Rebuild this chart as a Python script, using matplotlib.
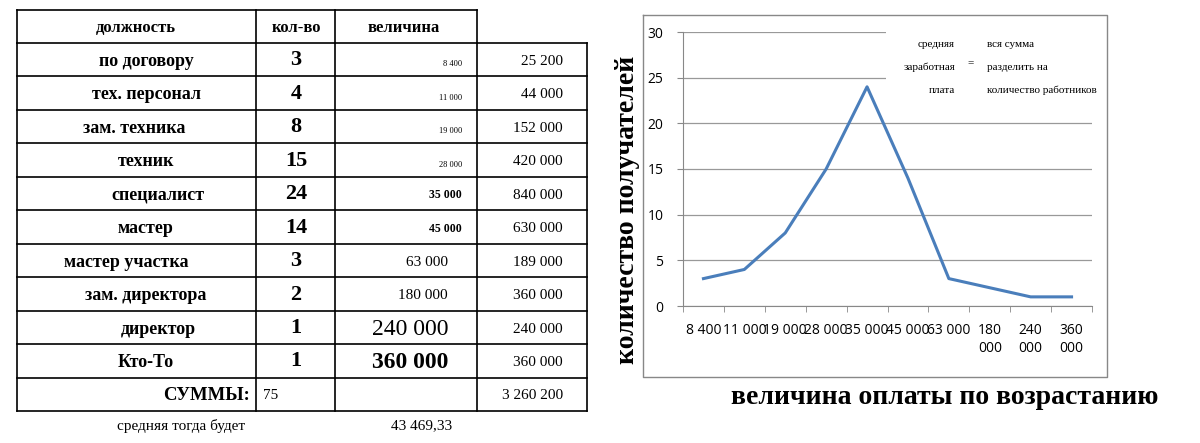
import matplotlib.pyplot as plt
import numpy as np

positions = ['по договору', 'тех. персонал', 'зам. техника', 'техник', 'специалист',
             'мастер', 'мастер участка', 'зам. директора', 'директор', 'Кто-То']
counts = [3, 4, 8, 15, 24, 14, 3, 2, 1, 1]
pay_labels = ['8 400', '11 000', '19 000', '28 000', '35 000', '45 000',
              '63 000', '180 000', '240 000', '360 000']
totals = ['25 200', '44 000', '152 000', '420 000', '840 000', '630 000',
          '189 000', '360 000', '240 000', '360 000']
sum_count = '75'
sum_total = '3 260 200'
average = '43 469,33'
tick_labels = ['8 400', '11 000', '19 000', '28 000', '35 000', '45 000', '63 000',
               '180\n000', '240\n000', '360\n000']

# how the "величина" column was typed in the sheet (size, weight)
pay_style = [(6, 'normal')] * 4 + [(8.5, 'bold')] * 2 + [(11, 'normal')] * 2 + \
            [(17, 'normal'), (17, 'bold')]
name_off = [0, 0, -12, 0, 12, 0, -20, 0, 12, 0]

fig = plt.figure(figsize=(12, 4.43), dpi=100)
bg = fig.add_axes([0, 0, 1, 1])
bg.set_xlim(0, 1200)
bg.set_ylim(443, 0)
bg.axis('off')

serif = 'Liberation Serif'
lw = 1.2
xs = [17, 256, 335, 477, 587]
top, head = 10, 43
rh = (411 - head) / 11
# header box
bg.plot([17, 477], [top, top], color='k', lw=lw)
for x in xs[:4]:
    bg.plot([x, x], [top, head], color='k', lw=lw)
for x in xs:
    bg.plot([x, x], [head, 411], color='k', lw=lw)
for i in range(12):
    y = head + i * rh
    bg.plot([17, 587], [y, y], color='k', lw=lw)

bg.text(136, 28, 'должность', family=serif, weight='bold', fontsize=12, ha='center', va='center')
bg.text(296, 28, 'кол-во', family=serif, weight='bold', fontsize=12, ha='center', va='center')
bg.text(404, 28, 'величина', family=serif, weight='bold', fontsize=12, ha='center', va='center')

for i in range(len(positions)):
    yc = head + (i + 0.55) * rh
    bg.text(146 + name_off[i], yc, positions[i], family=serif, weight='bold',
            fontsize=13, ha='center', va='center')
    bg.text(296, yc - 1, str(counts[i]), family=serif, weight='bold',
            fontsize=16, ha='center', va='center')
    s, w = pay_style[i]
    bg.text(462 if s < 10 else 448, yc + (3 if s < 7 else 0), pay_labels[i], family=serif,
            weight=w, fontsize=s, ha='right', va='center')
    bg.text(563, yc, totals[i], family=serif, fontsize=11, ha='right', va='center')

ys = head + 10.55 * rh
bg.text(250, ys, 'СУММЫ:', family=serif, weight='bold', fontsize=13.5, ha='right', va='center')
bg.text(263, ys, sum_count, family=serif, fontsize=11, ha='left', va='center')
bg.text(563, ys, sum_total, family=serif, fontsize=11, ha='right', va='center')
bg.text(117, 426, 'средняя тогда будет', family=serif, fontsize=11, ha='left', va='center')
bg.text(452, 426, average, family=serif, fontsize=11, ha='right', va='center')

# chart frame
bg.plot([643, 1107, 1107, 643, 643], [15, 15, 377, 377, 15], color='#888888', lw=1)

ax = fig.add_axes([683 / 1200, 137 / 443, 409 / 1200, 274 / 443])
x = np.arange(len(counts))
ax.plot(x, counts, color='#4a7ebb', lw=2.2)
ax.set_xlim(-0.5, len(counts) - 0.5)
ax.set_ylim(0, 30)
ax.set_yticks(range(0, 31, 5))
ax.grid(axis='y', color='#999999', lw=0.9)
ax.set_axisbelow(True)
for sp in ['top', 'right']:
    ax.spines[sp].set_visible(False)
ax.spines['left'].set_color('#888888')
ax.spines['bottom'].set_color('#888888')
ax.set_xticks(x)
ax.set_xticklabels(tick_labels, family='Open Sans', fontsize=10, va='top', linespacing=1.3)
ax.tick_params(axis='x', length=0, pad=12)
ax.set_xticks(np.arange(-0.5, len(counts), 1), minor=True)
ax.tick_params(axis='x', which='minor', length=4, color='#888888', direction='out')
ax.tick_params(axis='y', length=4, color='#888888', labelsize=10, pad=10)
for t in ax.get_yticklabels():
    t.set_family('Open Sans')

# formula box, covering the upper grid
ax.add_patch(plt.Rectangle((4.46, 22.8), 5.1, 7.6, facecolor='white', edgecolor='none',
                           transform=ax.transData, clip_on=False, zorder=1))

top_ax = fig.add_axes([0, 0, 1, 1])
top_ax.set_xlim(0, 1200)
top_ax.set_ylim(443, 0)
top_ax.axis('off')
for y, left, right in [(44, 'средняя', 'вся сумма'),
                       (67, 'заработная', 'разделить на'),
                       (90, 'плата', 'количество работников')]:
    top_ax.text(955, y, left, family=serif, fontsize=8, ha='right', va='center')
    top_ax.text(987, y, right, family=serif, fontsize=8, ha='left', va='center')
top_ax.text(971, 63, '=', family=serif, fontsize=8, ha='center', va='center')

top_ax.text(628, 210, 'количество получателей', family=serif, weight='bold', fontsize=20,
            rotation=90, ha='center', va='center')
top_ax.text(945, 397, 'величина оплаты по возрастанию', family=serif, weight='bold',
            fontsize=20, ha='center', va='center')

fig.savefig('out.png', dpi=100)
